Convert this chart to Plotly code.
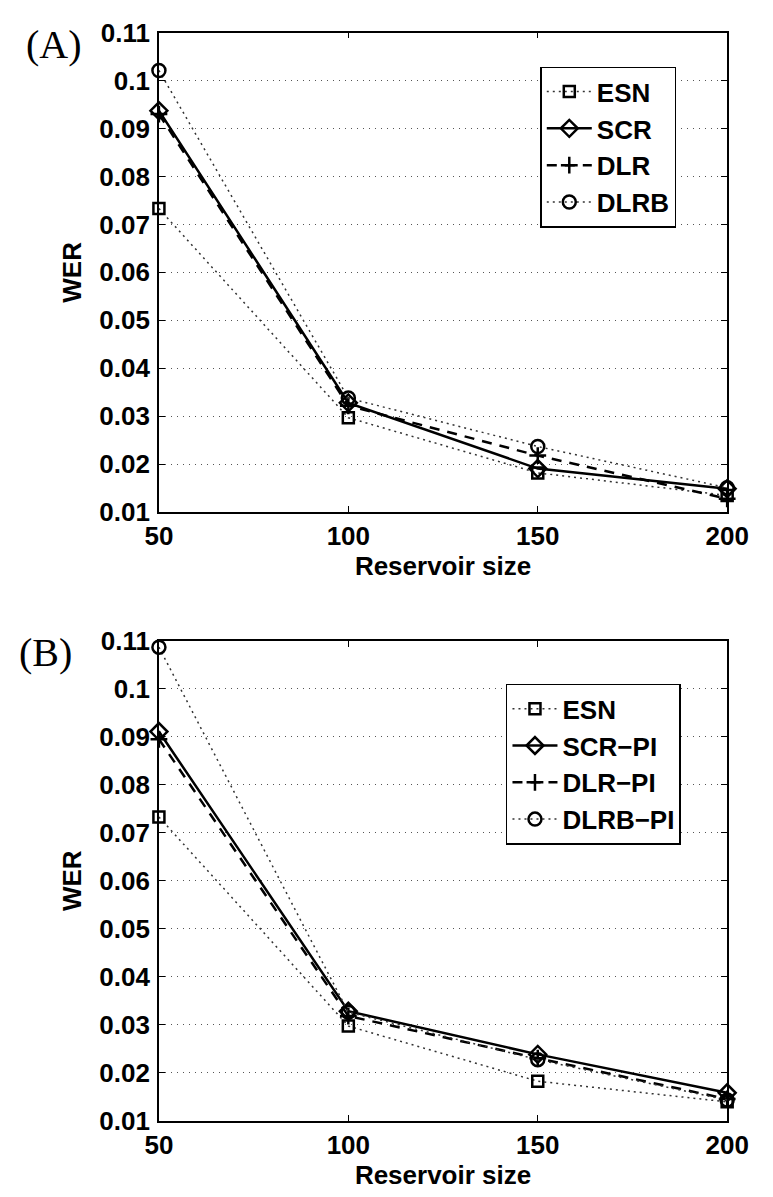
import plotly.graph_objects as go

# ---- data ----
sizes = [50, 100, 150, 200]

a_esn = [0.0733, 0.0297, 0.0182, 0.0135]
a_scr = [0.0937, 0.0328, 0.0191, 0.0149]
a_dlr = [0.0930, 0.0322, 0.0218, 0.0128]
a_dlrb = [0.1021, 0.0338, 0.0237, 0.0151]

b_esn = [0.0733, 0.0297, 0.0182, 0.0139]
b_scr = [0.0911, 0.0328, 0.0238, 0.0158]
b_dlr = [0.0895, 0.0318, 0.0230, 0.0145]
b_dlrb = [0.1087, 0.0326, 0.0227, 0.0143]

names_a = ["ESN", "SCR", "DLR", "DLRB"]
names_b = ["ESN", "SCR\u2212PI", "DLR\u2212PI", "DLRB\u2212PI"]

y_ticks = [0.01, 0.02, 0.03, 0.04, 0.05, 0.06, 0.07, 0.08, 0.09, 0.10, 0.11]
y_ticktext = ["0.01", "0.02", "0.03", "0.04", "0.05", "0.06", "0.07", "0.08", "0.09", "0.1", "0.11"]
x_ticks = [50, 100, 150, 200]

# ---- styles ----
styles = [
    dict(line=dict(color="#333", width=1.5, dash="2px,4px"),
         marker=dict(symbol="square-open", size=11, color="black", line=dict(width=2.5))),
    dict(line=dict(color="black", width=2.5, dash="solid"),
         marker=dict(symbol="diamond-open", size=13, color="black", line=dict(width=2.5))),
    dict(line=dict(color="black", width=2.5, dash="10px,8px"),
         marker=dict(symbol="cross-thin", size=12, color="black", line=dict(width=2.5, color="black"))),
    dict(line=dict(color="#333", width=1.5, dash="2px,4px"),
         marker=dict(symbol="circle-open", size=13, color="black", line=dict(width=2.5))),
]

fig = go.Figure()

for series, names, xa, ya, leg in [
    ([a_esn, a_scr, a_dlr, a_dlrb], names_a, "x", "y", "legend"),
    ([b_esn, b_scr, b_dlr, b_dlrb], names_b, "x2", "y2", "legend2"),
]:
    for vals, name, st in zip(series, names, styles):
        fig.add_trace(go.Scatter(
            x=sizes, y=vals, name=name, mode="lines+markers",
            xaxis=xa, yaxis=ya, legend=leg, cliponaxis=False,
            line=st["line"], marker=st["marker"],
        ))

FONT = "Liberation Sans, Arial, sans-serif"
tickfont = dict(family=FONT, size=26, color="black", weight="bold")
titlefont = dict(family=FONT, size=26, color="black", weight="bold")

W, H = 773, 1197
xdom = [152 / W, 748 / W]
ydomA = [1 - 510 / H, 1 - 18 / H]
ydomB = [1 - 1134 / H, 1 - 642 / H]

def xaxis(dom, anchor):
    return dict(domain=dom, anchor=anchor, range=[50, 200], tickvals=x_ticks,
                showgrid=False, zeroline=False, showline=True, linecolor="black",
                linewidth=1.5, mirror="ticks", ticks="inside", ticklen=6,
                tickcolor="black", tickwidth=1, tickfont=tickfont,
                ticklabelstandoff=0,
                title=dict(text="Reservoir size", font=titlefont, standoff=0))

def yaxis(dom, anchor):
    return dict(domain=dom, anchor=anchor, range=[0.01, 0.11], tickvals=y_ticks,
                ticktext=y_ticktext, showgrid=True, gridcolor="#555",
                griddash="1px,5px", gridwidth=1, zeroline=False, showline=True,
                linecolor="black", linewidth=1.5, mirror="ticks", ticks="inside",
                ticklen=6, tickcolor="black", tickwidth=1, tickfont=tickfont,
                ticklabelstandoff=2,
                title=dict(text="WER", font=titlefont, standoff=10))

legfont = dict(family=FONT, size=26, color="black", weight="bold")

fig.update_layout(
    width=W, height=H, margin=dict(l=0, r=0, t=0, b=0),
    paper_bgcolor="white", plot_bgcolor="white",
    xaxis=xaxis(xdom, "y"), yaxis=yaxis(ydomA, "x"),
    xaxis2=xaxis(xdom, "y2"), yaxis2=yaxis(ydomB, "x2"),
    legend=dict(x=552 / W, y=1 - 53 / H, xanchor="left", yanchor="top",
                bordercolor="black", borderwidth=1.5, bgcolor="white",
                font=legfont, itemwidth=45, tracegroupgap=0),
    legend2=dict(x=516 / W, y=1 - 686 / H, xanchor="left", yanchor="top",
                 bordercolor="black", borderwidth=1.5, bgcolor="white",
                 font=legfont, itemwidth=45, tracegroupgap=0),
    annotations=[
        dict(text="(A)", x=42 / W, y=1 - 30 / H, xref="paper", yref="paper",
             showarrow=False, xanchor="center", yanchor="middle",
             font=dict(family="Liberation Serif, Times New Roman, serif", size=40, color="black")),
        dict(text="(B)", x=33 / W, y=1 - 654 / H, xref="paper", yref="paper",
             showarrow=False, xanchor="center", yanchor="middle",
             font=dict(family="Liberation Serif, Times New Roman, serif", size=40, color="black")),
    ],
)

fig.write_html("out.html")
